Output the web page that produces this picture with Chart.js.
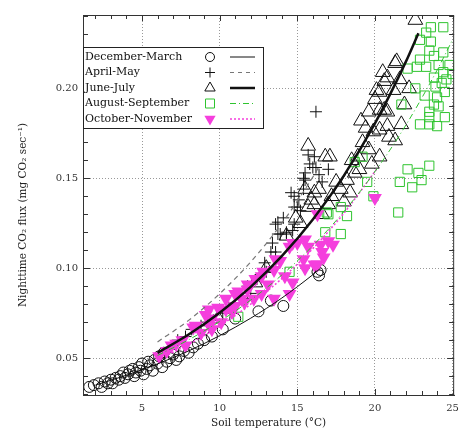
<!DOCTYPE html>
<html>
<head>
<meta charset="utf-8">
<script src="https://cdn.jsdelivr.net/npm/chart.js@4.4.0/dist/chart.umd.min.js"></script>
<style>
  html, body { margin: 0; padding: 0; background: #fff; }
  #wrap { width: 466px; height: 435px; }
</style>
</head>
<body>
<div id="wrap"><canvas id="fluxChart"></canvas></div>
<script>
// =========================
// Data
// =========================

const xTicks = [5, 10, 15, 20, 25];
const yTicks = [0.05, 0.10, 0.15, 0.20];
const seriesNames = ["December-March", "April-May", "June-July", "August-September", "October-November"];

// [soil temperature, flux]
const decMarPts = [
  [1.6, 0.034], [1.9, 0.035], [2.2, 0.036], [2.4, 0.034], [2.6, 0.037], [2.8, 0.036],
  [3.0, 0.038], [3.1, 0.036], [3.3, 0.039], [3.5, 0.038], [3.6, 0.040], [3.8, 0.042],
  [3.9, 0.039], [4.1, 0.041], [4.2, 0.043], [4.4, 0.044], [4.5, 0.040], [4.6, 0.042],
  [4.8, 0.045], [4.9, 0.043], [5.0, 0.047], [5.1, 0.041], [5.3, 0.044], [5.4, 0.048],
  [5.5, 0.046], [5.7, 0.043], [5.8, 0.049], [6.0, 0.047], [6.1, 0.051], [6.3, 0.045],
  [6.4, 0.053], [6.6, 0.048], [6.8, 0.050], [7.0, 0.052], [7.2, 0.049], [7.4, 0.051],
  [7.7, 0.054], [8.0, 0.053], [8.3, 0.056], [8.6, 0.058], [9.0, 0.060], [9.5, 0.062],
  [10.2, 0.066], [11.0, 0.072], [12.5, 0.076], [13.3, 0.082], [14.1, 0.079],
  [16.3, 0.098], [16.4, 0.096], [16.5, 0.099],
];

const aprMayPts = [
  [7.3, 0.060], [7.8, 0.062], [8.2, 0.066], [8.8, 0.068], [9.2, 0.070], [9.6, 0.071],
  [10.2, 0.075], [10.6, 0.078], [11.0, 0.080], [11.5, 0.083], [11.8, 0.090], [11.8, 0.083],
  [12.0, 0.086], [12.4, 0.094], [12.9, 0.103], [13.0, 0.098], [13.3, 0.109], [13.4, 0.114],
  [13.6, 0.109], [13.6, 0.1245], [13.75, 0.119], [13.9, 0.119], [14.3, 0.119], [14.3, 0.120],
  [14.6, 0.142], [14.7, 0.121], [14.8, 0.1245], [14.8, 0.140], [14.8, 0.134], [15.0, 0.134],
  [15.2, 0.132], [15.4, 0.144], [15.4, 0.150], [15.5, 0.153], [15.5, 0.149], [15.7, 0.163],
  [15.8, 0.158], [16.0, 0.156], [16.1, 0.162], [16.2, 0.156], [16.2, 0.187], [16.6, 0.148],
  [17.0, 0.155], [13.75, 0.1256], [14.1, 0.128], [15.1, 0.138], [16.4, 0.152],
];

const junJulPts = [
  [9.9, 0.072], [12.3, 0.092], [13.0, 0.100], [14.3, 0.118], [14.9, 0.128], [15.2, 0.125],
  [15.5, 0.144], [15.7, 0.134], [15.7, 0.168], [15.9, 0.138], [16.1, 0.142], [16.1, 0.1355],
  [16.4, 0.144], [16.8, 0.162], [17.0, 0.1355], [17.1, 0.162], [17.2, 0.140], [17.8, 0.144],
  [18.0, 0.137], [18.2, 0.149], [18.5, 0.160], [18.7, 0.153], [18.9, 0.162], [19.0, 0.155],
  [19.2, 0.170], [19.4, 0.178], [19.6, 0.166], [19.6, 0.187], [19.9, 0.176], [20.0, 0.194],
  [20.1, 0.199], [20.3, 0.162], [20.3, 0.177], [20.3, 0.188], [20.3, 0.198], [20.5, 0.209],
  [20.6, 0.204], [20.6, 0.188], [20.8, 0.179], [20.8, 0.187], [20.8, 0.206], [20.9, 0.173],
  [21.2, 0.199], [21.3, 0.171], [21.3, 0.214], [21.4, 0.215], [21.6, 0.205], [21.7, 0.180],
  [21.9, 0.191], [22.2, 0.200], [22.6, 0.238], [16.6, 0.130], [17.5, 0.148], [18.4, 0.142],
  [19.1, 0.182], [19.8, 0.158],
];

const augSepPts = [
  [11.2, 0.073], [14.5, 0.098], [16.8, 0.120], [16.9, 0.131], [17.0, 0.130], [17.8, 0.134],
  [17.8, 0.119], [18.2, 0.129], [18.7, 0.159], [19.2, 0.162], [19.5, 0.148], [19.9, 0.140],
  [21.5, 0.131], [21.6, 0.148], [22.1, 0.155], [22.4, 0.145], [22.8, 0.153], [23.0, 0.149],
  [23.5, 0.157], [21.7, 0.191], [22.6, 0.200], [22.1, 0.211], [22.7, 0.212], [22.9, 0.216],
  [22.9, 0.227], [22.9, 0.180], [23.3, 0.231], [23.3, 0.212], [23.5, 0.221], [23.5, 0.187],
  [23.5, 0.184], [23.5, 0.180], [23.6, 0.234], [23.6, 0.226], [23.8, 0.218], [23.8, 0.206],
  [23.8, 0.191], [24.0, 0.195], [24.0, 0.179], [24.1, 0.213], [24.1, 0.190], [24.3, 0.203],
  [24.4, 0.234], [24.4, 0.220], [24.4, 0.209], [24.5, 0.198], [24.5, 0.184], [24.6, 0.205],
  [25.0, 0.208], [23.2, 0.196], [23.9, 0.201], [24.8, 0.213],
];

const octNovPts = [
  [6.1, 0.051], [6.6, 0.054], [6.9, 0.057], [7.2, 0.058], [7.6, 0.060], [7.8, 0.057],
  [8.3, 0.067], [8.45, 0.068], [8.8, 0.064], [9.1, 0.074], [9.3, 0.077], [9.35, 0.068],
  [9.5, 0.072], [9.5, 0.066], [9.9, 0.078], [10.1, 0.070], [10.4, 0.083], [10.4, 0.077],
  [10.8, 0.0756], [10.9, 0.078], [11.0, 0.079], [11.0, 0.0856], [11.2, 0.087], [11.4, 0.083],
  [11.6, 0.081], [11.8, 0.088], [11.8, 0.091], [12.2, 0.083], [12.3, 0.094], [12.7, 0.0955],
  [12.7, 0.0856], [12.8, 0.098], [13.1, 0.091], [13.5, 0.083], [13.5, 0.099], [13.6, 0.105],
  [13.9, 0.104], [14.2, 0.0955], [14.5, 0.0856], [14.5, 0.112], [14.7, 0.114], [14.7, 0.092],
  [15.0, 0.114], [15.4, 0.105], [15.5, 0.116], [15.5, 0.100], [15.7, 0.112], [16.1, 0.102],
  [16.3, 0.130], [16.3, 0.102], [16.5, 0.113], [16.6, 0.109], [16.7, 0.106], [17.0, 0.115],
  [17.3, 0.113], [20.0, 0.139],
];

// fitted curves
const decMarFitX = [2, 4, 6, 8, 10, 12, 14, 16, 16.5];
const decMarFitY = [0.035, 0.0405, 0.0468, 0.054, 0.0625, 0.0722, 0.0834, 0.0964, 0.100];
const aprMayFitX = [6, 8, 10, 12, 14, 16, 16.5];
const aprMayFitY = [0.059, 0.071, 0.0858, 0.1035, 0.1249, 0.1507, 0.158];
const junJulFitX = [6, 8, 10, 12, 14, 16, 18, 20, 22, 22.8];
const junJulFitY = [0.0529, 0.0631, 0.0752, 0.0896, 0.1067, 0.1271, 0.1515, 0.1805, 0.215, 0.2307];
const augSepFitX = [6, 8, 10, 12, 14, 16, 18, 20, 22, 24, 25];
const augSepFitY = [0.0515, 0.0602, 0.0704, 0.0823, 0.0962, 0.1125, 0.1315, 0.1537, 0.1797, 0.2101, 0.2271];
const octNovFitX = [6, 8, 10, 12, 14, 16, 18, 20, 20.1];
const octNovFitY = [0.049, 0.0577, 0.0679, 0.080, 0.0942, 0.1109, 0.1306, 0.1538, 0.155];

// =========================
// Styles
// =========================

const colors = {
  black: "#111",
  gray: "#777",
  green: "#2fc42f",
  magenta: "#f53fdd",
  axis: "#333",
};
const serif = "'DejaVu Serif', serif";

const toXY = pts => pts.map(([x, y]) => ({ x, y }));
const fitXY = (xs, ys) => xs.map((x, i) => ({ x, y: ys[i] }));

function pointSet(label, pts, style, radius, color, order, extra) {
  return Object.assign({
    label,
    data: toXY(pts),
    pointStyle: style,
    pointRadius: radius,
    pointHoverRadius: radius,
    pointBorderColor: color,
    pointBackgroundColor: "rgba(0,0,0,0)",
    pointBorderWidth: 1,
    showLine: false,
    order,
  }, extra || {});
}

function fitSet(label, xs, ys, color, width, dash, order) {
  return {
    label: label + " fit",
    data: fitXY(xs, ys),
    showLine: true,
    borderColor: color,
    borderWidth: width,
    borderDash: dash,
    pointRadius: 0,
    tension: 0.4,
    cubicInterpolationMode: "monotone",
    order,
  };
}

// =========================
// Marker helper (legend)
// =========================

function drawMarker(ctx, kind, x, y, r, color) {
  ctx.save();
  ctx.strokeStyle = color;
  ctx.fillStyle = color;
  ctx.lineWidth = 1;
  ctx.beginPath();
  if (kind === "circle") {
    ctx.arc(x, y, r, 0, Math.PI * 2);
    ctx.stroke();
  } else if (kind === "cross") {
    ctx.moveTo(x - r, y); ctx.lineTo(x + r, y);
    ctx.moveTo(x, y - r); ctx.lineTo(x, y + r);
    ctx.stroke();
  } else if (kind === "triangle") {
    ctx.moveTo(x, y - r);
    ctx.lineTo(x + r * 0.866, y + r * 0.5);
    ctx.lineTo(x - r * 0.866, y + r * 0.5);
    ctx.closePath();
    ctx.stroke();
  } else if (kind === "rect") {
    ctx.rect(x - r, y - r, r * 2, r * 2);
    ctx.stroke();
  } else if (kind === "down") {
    ctx.moveTo(x, y + r);
    ctx.lineTo(x + r * 0.866, y - r * 0.5);
    ctx.lineTo(x - r * 0.866, y - r * 0.5);
    ctx.closePath();
    ctx.fill();
  }
  ctx.restore();
}

// frame + inward ticks on all sides, y title, legend box
const framePlugin = {
  id: "frame",
  afterDraw(chart) {
    const { ctx, chartArea: a, scales } = chart;
    const xs = scales.x, ys = scales.y;
    ctx.save();
    ctx.strokeStyle = colors.axis;
    ctx.lineWidth = 1;
    ctx.strokeRect(a.left + 0.5, a.top + 0.5, a.right - a.left - 1, a.bottom - a.top);

    ctx.beginPath();
    for (let v = 2; v <= 25; v++) {
      const px = Math.round(xs.getPixelForValue(v)) + 0.5;
      const len = v % 5 === 0 ? 6 : 4;
      ctx.moveTo(px, a.bottom); ctx.lineTo(px, a.bottom - len);
      ctx.moveTo(px, a.top); ctx.lineTo(px, a.top + len);
    }
    for (let k = 3; k <= 24; k++) {
      const py = Math.round(ys.getPixelForValue(k / 100)) + 0.5;
      const len = k % 5 === 0 ? 7 : 5;
      ctx.moveTo(a.left, py); ctx.lineTo(a.left + len, py);
      ctx.moveTo(a.right, py); ctx.lineTo(a.right - len, py);
    }
    ctx.stroke();

    // y axis title
    ctx.fillStyle = "#222";
    ctx.font = "10.5px " + serif;
    ctx.textAlign = "center";
    ctx.textBaseline = "middle";
    ctx.translate(23, 215);
    ctx.rotate(-Math.PI / 2);
    ctx.fillText("Nighttime CO\u2082 flux (mg CO\u2082 sec\u207B\u00B9)", 0, 0);
    ctx.restore();

    // legend
    const lx = a.left, ly = a.top + 32, lw = 180, lh = 81;
    ctx.save();
    ctx.fillStyle = "#fff";
    ctx.fillRect(lx, ly, lw, lh);
    ctx.strokeStyle = "#222";
    ctx.lineWidth = 1;
    ctx.strokeRect(lx + 0.5, ly + 0.5, lw, lh);

    const markers = [
      ["circle", 4.5, colors.black],
      ["cross", 5, colors.black],
      ["triangle", 6, colors.black],
      ["rect", 4.5, colors.green],
      ["down", 6.5, colors.magenta],
    ];
    const lines = [
      [colors.black, 1, []],
      [colors.gray, 1.2, [4, 4]],
      [colors.black, 2.5, []],
      [colors.green, 1, [6, 3, 1, 3]],
      [colors.magenta, 1.5, [2, 2]],
    ];
    ctx.font = "11px " + serif;
    ctx.textBaseline = "middle";
    seriesNames.forEach((name, i) => {
      const y = ly + 10 + i * 15.5;
      ctx.fillStyle = "#111";
      ctx.fillText(name, lx + 2, y);
      const [kind, r, col] = markers[i];
      drawMarker(ctx, kind, lx + 127, y, r, col);
      const [lc, lwid, dash] = lines[i];
      ctx.save();
      ctx.strokeStyle = lc;
      ctx.lineWidth = lwid;
      ctx.setLineDash(dash);
      ctx.beginPath();
      ctx.moveTo(lx + 147, y); ctx.lineTo(lx + 172, y);
      ctx.stroke();
      ctx.restore();
    });
    ctx.restore();
  },
};

// =========================
// Chart
// =========================

new Chart(document.getElementById("fluxChart").getContext("2d"), {
  type: "scatter",
  data: {
    datasets: [
      fitSet(seriesNames[0], decMarFitX, decMarFitY, colors.black, 1, [], 0),
      fitSet(seriesNames[1], aprMayFitX, aprMayFitY, colors.gray, 1.2, [5, 4], 0),
      fitSet(seriesNames[2], junJulFitX, junJulFitY, colors.black, 2.5, [], 0),
      fitSet(seriesNames[3], augSepFitX, augSepFitY, colors.green, 1, [6, 3, 1, 3], 0),
      fitSet(seriesNames[4], octNovFitX, octNovFitY, colors.magenta, 1.5, [2, 2], 0),
      pointSet(seriesNames[4], octNovPts, "triangle", 8, colors.magenta, 1,
        { pointRotation: 180, pointBackgroundColor: colors.magenta, pointBorderWidth: 0 }),
      pointSet(seriesNames[3], augSepPts, "rect", 6.5, colors.green, 2),
      pointSet(seriesNames[2], junJulPts, "triangle", 8.5, colors.black, 3),
      pointSet(seriesNames[1], aprMayPts, "cross", 6, colors.black, 4),
      pointSet(seriesNames[0], decMarPts, "circle", 5.5, colors.black, 5),
    ],
  },
  options: {
    responsive: true,
    maintainAspectRatio: false,
    animation: false,
    layout: { padding: { top: 15, right: 9, left: 0, bottom: 0 } },
    plugins: {
      legend: { display: false },
      tooltip: { enabled: false },
    },
    scales: {
      x: {
        type: "linear",
        min: 1.2,
        max: 25.1,
        afterBuildTicks: s => { s.ticks = xTicks.map(v => ({ value: v })); },
        afterFit: s => { s.height = 40; },
        ticks: {
          color: colors.axis,
          font: { family: serif, size: 10 },
          padding: 7,
        },
        grid: { color: "#999", lineWidth: 1, drawTicks: false },
        border: { display: true, color: colors.axis, dash: [1, 2] },
        title: {
          display: true,
          text: "Soil temperature (\u00B0C)",
          color: "#222",
          font: { family: serif, size: 10.5 },
          padding: { top: 0, bottom: 5 },
        },
      },
      y: {
        type: "linear",
        min: 0.0295,
        max: 0.2408,
        afterBuildTicks: s => { s.ticks = yTicks.map(v => ({ value: v })); },
        afterFit: s => { s.width = 83; },
        ticks: {
          color: colors.axis,
          font: { family: serif, size: 10 },
          padding: 5,
          callback: v => v.toFixed(2),
        },
        grid: { color: "#999", lineWidth: 1, drawTicks: false },
        border: { display: true, color: colors.axis, dash: [1, 2] },
      },
    },
  },
  plugins: [framePlugin],
});
</script>
</body>
</html>
